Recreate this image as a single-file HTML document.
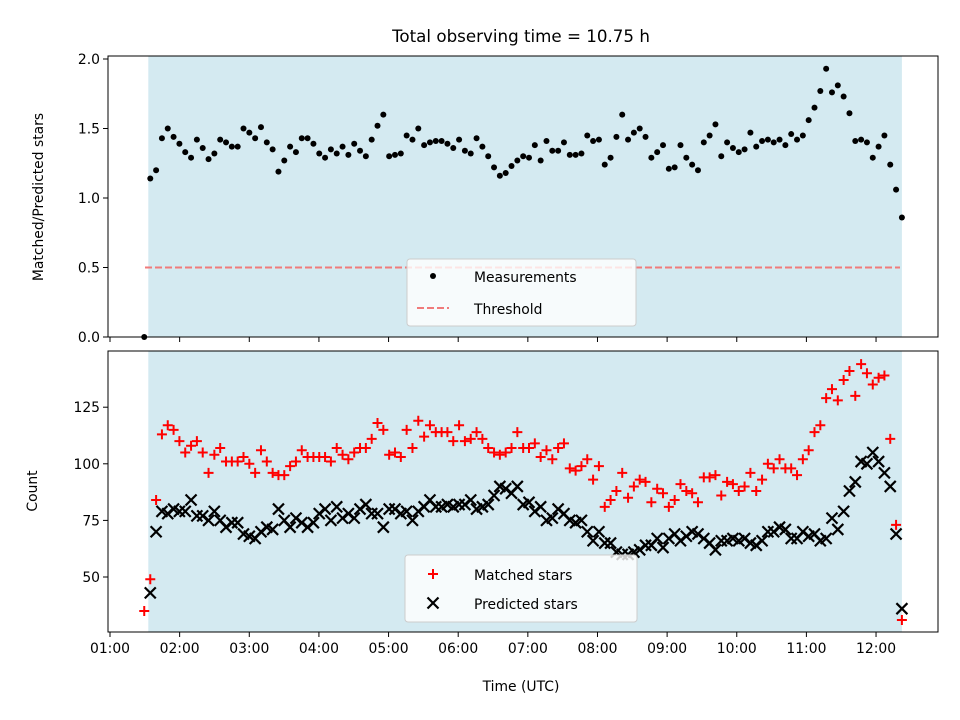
<!DOCTYPE html>
<html><head><meta charset="utf-8"><style>
body{margin:0;background:#fff}
svg{display:block;font-family:"DejaVu Sans","Liberation Sans",sans-serif}
</style></head><body>
<svg id="chart" width="960" height="720" viewBox="0 0 960 720" xmlns="http://www.w3.org/2000/svg"></svg>
<script>
const ratioValues=[0,1.14,1.20,1.43,1.50,1.44,1.39,1.33,1.29,1.42,1.36,1.28,1.32,1.42,1.40,1.37,1.37,1.50,1.47,1.43,1.51,1.40,1.35,1.19,1.27,1.37,1.33,1.43,1.43,1.39,1.32,1.29,1.35,1.32,
1.37,1.31,1.39,1.34,1.30,1.42,1.52,1.60,1.30,1.31,1.32,1.45,1.42,1.50,1.38,1.40,1.41,1.41,1.39,1.36,1.42,1.34,1.32,1.43,1.37,1.30,1.22,1.16,1.18,1.23,1.27,1.30,1.29,
1.38,1.27,1.41,1.34,1.34,1.40,1.31,1.31,1.32,1.45,1.41,1.42,1.24,1.29,1.44,1.60,1.42,1.47,1.50,1.44,1.29,1.33,1.38,1.21,1.22,1.38,1.29,1.24,1.20,1.40,1.45,1.53,1.30,
1.40,1.36,1.33,1.35,1.47,1.37,1.41,1.42,1.40,1.42,1.38,1.46,1.42,1.45,1.56,1.65,1.77,1.93,1.76,1.81,1.73,1.61,1.41,1.42,1.40,1.29,1.37,1.45,1.24,1.06,0.86];
const matchedValues=[35,49,84,113,117,115,110,105,108,110,105,96,104,107,101,101,101,103,100,96,106,101,96,95,95,99,101,106,103,103,103,103,101,107,104,
102,105,107,107,111,118,115,104,105,103,115,107,119,112,117,114,114,114,110,117,110,111,114,111,107,105,104,105,107,114,107,107,109,
103,106,102,107,109,98,97,99,102,93,99,81,84,88,96,85,90,93,92,83,89,87,81,84,91,88,87,83,94,94,95,86,
92,91,88,90,96,88,93,100,98,102,98,98,95,102,106,114,117,129,133,128,137,141,130,144,140,135,138,139,111,73,31];
const predictedValues=[null,43,70,79,78,80,79,79,84,77,77,75,79,75,72,74,74,69,68,67,70,72,71,80,75,72,76,74,72,74,78,80,75,81,76,
78,76,80,82,78,78,72,80,80,78,79,75,79,81,84,81,81,82,81,82,82,84,80,81,82,86,90,89,87,90,82,83,
79,81,75,76,80,78,75,74,75,70,66,70,65,65,61,60,60,61,62,64,64,67,63,67,69,66,68,70,69,67,65,62,66,
66,67,66,67,65,64,66,70,70,72,71,67,67,70,68,69,66,67,76,71,79,88,92,101,100,105,101,96,90,69,36];
const xTickLabels=["01:00","02:00","03:00","04:00","05:00","06:00","07:00","08:00","09:00","10:00","11:00","12:00"];
const topYTicks=[0,0.5,1.0,1.5,2.0];
const bottomYTicks=[50,75,100,125];
const threshold=0.5;
const firstMinute=89.5, secondMinute=94.7, stepMinutes=5.02;
const timesMin=[firstMinute];
for(let i=1;i<ratioValues.length;i++) timesMin.push(secondMinute+(i-1)*stepMinutes);

const NS="http://www.w3.org/2000/svg";
const svg=document.getElementById('chart');
function el(tag,attrs,parent){const e=document.createElementNS(NS,tag);for(const k in attrs)e.setAttribute(k,attrs[k]);(parent||svg).appendChild(e);return e;}
const L=108,R=938;
const xs=m=>110+(m/60-1)*69.64;
const yTop=v=>337-v*139;
const yBot=v=>577-(v-50)*2.264;
const T1=56,B1=337,T2=351,B2=632;

[[T1,B1],[T2,B2]].forEach(([t,b],i)=>{
 const r=el('rect',{x:xs(93),y:t,width:xs(timesMin[timesMin.length-1])-xs(93),height:b-t,fill:'#d4eaf1'});
 
 
});
const th=el('line',{x1:145,x2:900,y1:yTop(threshold),y2:yTop(threshold),stroke:'#f07b7b','stroke-width':2,'stroke-dasharray':'7,3'});


ratioValues.forEach((v,i)=>{
 const c=el('circle',{cx:xs(timesMin[i]),cy:yTop(v),r:3,fill:'#000'});
 
 
});
matchedValues.forEach((v,i)=>{
 const x=xs(timesMin[i]),y=yBot(v);
 const p=el('path',{d:`M${x-5},${y}H${x+5}M${x},${y-5}V${y+5}`,stroke:'#ff0000','stroke-width':2,fill:'none'});
 
 
});
predictedValues.forEach((v,i)=>{
 if(v===null)return;
 const x=xs(timesMin[i]),y=yBot(v);
 const p=el('path',{d:`M${x-5.5},${y-5.5}L${x+5.5},${y+5.5}M${x-5.5},${y+5.5}L${x+5.5},${y-5.5}`,stroke:'#000','stroke-width':2.2,fill:'none'});
 
 
});
[[T1,B1],[T2,B2]].forEach(([t,b],i)=>{
 const f=el('rect',{x:L,y:t,width:R-L,height:b-t,fill:'none',stroke:'#000','stroke-width':1});
 
 
});
xTickLabels.forEach((lab,i)=>{
 const x=xs((i+1)*60);
 el('line',{x1:x,x2:x,y1:B1,y2:B1+5,stroke:'#000'});
 el('line',{x1:x,x2:x,y1:B2,y2:B2+5,stroke:'#000'});
 const t=el('text',{x:x,y:B2+21,'text-anchor':'middle','font-size':13.9});
 t.textContent=lab;
 
 
});
topYTicks.forEach(v=>{
 const y=yTop(v);
 el('line',{x1:L-5,x2:L,y1:y,y2:y,stroke:'#000'});
 const t=el('text',{x:L-8,y:y+5,'text-anchor':'end','font-size':13.9});
 t.textContent=v.toFixed(1);
 
 
});
bottomYTicks.forEach(v=>{
 const y=yBot(v);
 el('line',{x1:L-5,x2:L,y1:y,y2:y,stroke:'#000'});
 const t=el('text',{x:L-8,y:y+5,'text-anchor':'end','font-size':13.9});
 t.textContent=v;
 
 
});
function txt(s,attrs,name){const t=el('text',attrs);t.textContent=s;return t;}
txt('Total observing time = 10.75 h',{x:521,y:42,'text-anchor':'middle','font-size':16.7},'chart-title');
txt('Matched/Predicted stars',{x:0,y:0,transform:'translate(43,197) rotate(-90)','text-anchor':'middle','font-size':13.9},'top-y-axis-title');
txt('Count',{x:0,y:0,transform:'translate(37,491) rotate(-90)','text-anchor':'middle','font-size':13.9},'bottom-y-axis-title');
txt('Time (UTC)',{x:521,y:691,'text-anchor':'middle','font-size':13.9},'x-axis-title');
const lg1=el('g',{});


el('rect',{x:407,y:259,width:229,height:67,rx:3,fill:'#fff','fill-opacity':0.8,stroke:'#ccc'},lg1);
el('circle',{cx:433,cy:276,r:3,fill:'#000'},lg1);
el('line',{x1:417,x2:449,y1:308,y2:308,stroke:'#f07b7b','stroke-width':2,'stroke-dasharray':'7,3'},lg1);
txt('Measurements',{x:474,y:282,'font-size':13.9},'legend-measurements');
txt('Threshold',{x:474,y:314,'font-size':13.9},'legend-threshold');
const lg2=el('g',{});


el('rect',{x:405,y:555,width:232,height:67,rx:3,fill:'#fff','fill-opacity':0.8,stroke:'#ccc'},lg2);
el('path',{d:'M428,574H438M433,569V579',stroke:'#f00','stroke-width':2},lg2);
el('path',{d:'M427.5,597.5L438.5,608.5M427.5,608.5L438.5,597.5',stroke:'#000','stroke-width':2.2},lg2);
txt('Matched stars',{x:474,y:580,'font-size':13.9},'legend-matched-stars');
txt('Predicted stars',{x:474,y:609,'font-size':13.9},'legend-predicted-stars');
</script>
</body></html>
